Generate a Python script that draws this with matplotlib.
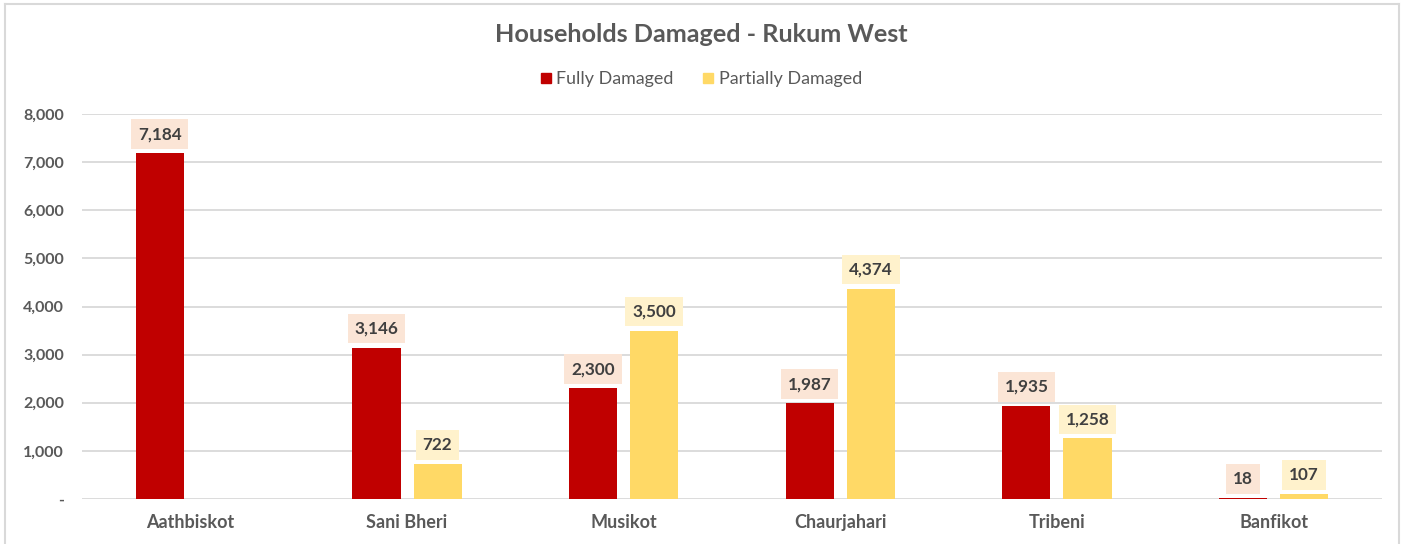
import matplotlib
matplotlib.use("Agg")
import matplotlib.pyplot as plt
import numpy as np
from matplotlib.lines import Line2D

categories = ["Aathbiskot", "Sani Bheri", "Musikot", "Chaurjahari", "Tribeni", "Banfikot"]
fully = [7184, 3146, 2300, 1987, 1935, 18]
partially = [0, 722, 3500, 4374, 1258, 107]
yticks = [0, 1000, 2000, 3000, 4000, 5000, 6000, 7000, 8000]
ytick_labels = ["-", "1,000", "2,000", "3,000", "4,000", "5,000", "6,000", "7,000", "8,000"]

plt.rcParams['font.family'] = ['Lato', 'DejaVu Sans']

fig = plt.figure(figsize=(14.02, 5.44), dpi=100)
ax = fig.add_axes([0.0585, 0.0827, 0.9272, 0.7077])

x = np.arange(len(categories))
w = 0.222
off = 0.141
red = "#C00000"
yel = "#FFD966"
ax.bar(x - off, fully, w, color=red, zorder=3, label="Fully Damaged")
ax.bar(x + off, partially, w, color=yel, zorder=3, label="Partially Damaged")

lbl_kw = dict(textcoords="offset points", ha="center", va="bottom", fontsize=12.3,
              fontweight="bold", color="#404040", zorder=4)
for xi, v in zip(x, fully):
    ax.annotate(f"{v:,}", (xi - off, v), xytext=(0, 8),
                bbox=dict(boxstyle="square,pad=0.4", fc="#FBE5D6", ec="none"), **lbl_kw)
for xi, v in zip(x, partially):
    if v > 0:
        ax.annotate(f"{v:,}", (xi + off, v), xytext=(0, 8),
                    bbox=dict(boxstyle="square,pad=0.4", fc="#FFF2CC", ec="none"), **lbl_kw)

ax.set_xlim(-0.5, len(categories) - 0.5)
ax.set_ylim(0, 8000)
ax.set_yticks(yticks)
ax.set_yticklabels(ytick_labels, fontsize=11.5, fontweight="bold", color="#595959")
ax.set_xticks(x)
ax.set_xticklabels(categories, fontsize=13, fontweight="bold", color="#595959")
ax.tick_params(axis="x", length=0, pad=11)
ax.tick_params(axis="y", length=0, pad=13)
ax.grid(axis="y", color="#D9D9D9", linewidth=1.3, zorder=0)
for s in ax.spines.values():
    s.set_visible(False)

fig.text(0.5, 0.937, "Households Damaged - Rukum West", ha="center", va="center",
         fontsize=18.2, fontweight="bold", color="#595959")

handles = [Line2D([0], [0], marker="s", linestyle="none", markersize=7, markerfacecolor=red, markeredgecolor=red),
           Line2D([0], [0], marker="s", linestyle="none", markersize=7, markerfacecolor=yel, markeredgecolor=yel)]
fig.legend(handles, ["Fully Damaged", "Partially Damaged"], loc="center", bbox_to_anchor=(0.5, 0.855),
           ncol=2, frameon=False, fontsize=12.9, labelcolor="#595959", handlelength=0.6,
           handletextpad=0.3, columnspacing=1.6)

# outer frame
fc = "#D9D9D9"
fig.add_artist(Line2D([5/1402, 5/1402], [0, 1 - 4/544], color=fc, lw=1.5, transform=fig.transFigure))
fig.add_artist(Line2D([1399/1402, 1399/1402], [0, 1 - 4/544], color=fc, lw=1.5, transform=fig.transFigure))
fig.add_artist(Line2D([5/1402, 1399/1402], [1 - 4/544, 1 - 4/544], color=fc, lw=1.5, transform=fig.transFigure))

fig.savefig("out.png", dpi=100, facecolor="white")
